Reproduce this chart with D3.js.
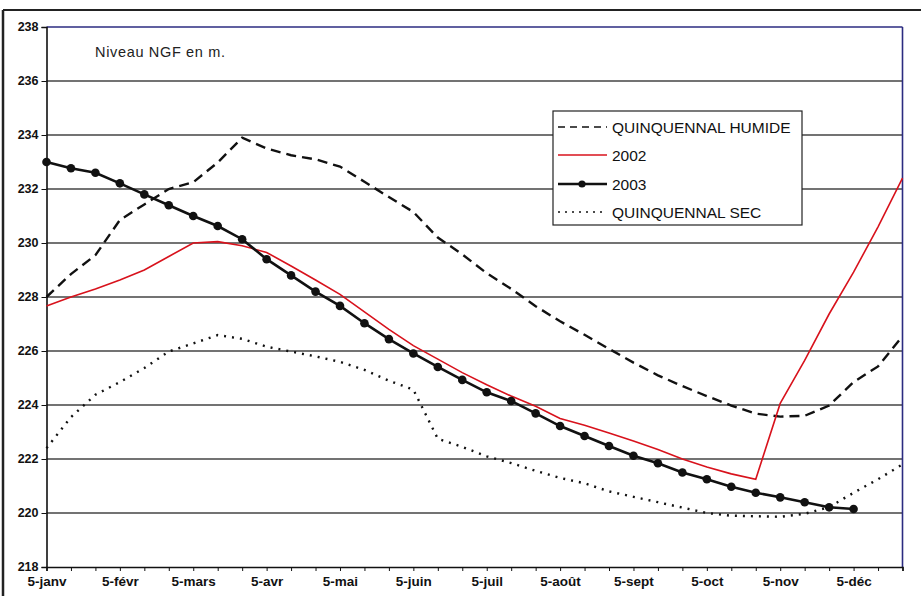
<!DOCTYPE html>
<html>
<head>
<meta charset="utf-8">
<script src="https://cdn.jsdelivr.net/npm/d3@7/dist/d3.min.js"></script>
<style>
  html, body { margin: 0; padding: 0; background: #fff; }
  svg { display: block; font-family: "Liberation Sans", Arial, sans-serif; }
</style>
</head>
<body>
<svg id="chart" width="921" height="596"></svg>
<script>
// ---- data ----
const months = ["5-janv","5-févr","5-mars","5-avr","5-mai","5-juin","5-juil","5-août","5-sept","5-oct","5-nov","5-déc"];
const dekadDays = [5, 15, 25];
const categories = months.flatMap(m => dekadDays.map(d => d + m.slice(1)));
const yTicks = [218, 220, 222, 224, 226, 228, 230, 232, 234, 236, 238];

const humide = [228.0, 228.85, 229.55, 230.85, 231.43, 232.0, 232.25, 232.98, 233.9, 233.5, 233.25, 233.1,
  232.83, 232.27, 231.7, 231.15, 230.2, 229.58, 228.88, 228.3, 227.66, 227.1, 226.6, 226.08,
  225.57, 225.1, 224.7, 224.33, 223.98, 223.68, 223.57, 223.6, 223.98, 224.85, 225.43, 226.55];
const y2002 = [227.67, 228.0, 228.3, 228.63, 229.0, 229.5, 230.0, 230.05, 229.9, 229.65, 229.15, 228.63,
  228.1, 227.45, 226.8, 226.2, 225.7, 225.2, 224.75, 224.33, 223.95, 223.5, 223.25, 222.96,
  222.67, 222.35, 222.0, 221.7, 221.45, 221.25, 224.06, 225.65, 227.37, 228.92, 230.6, 232.4];
const y2003 = [233.0, 232.77, 232.6, 232.21, 231.8, 231.4, 231.0, 230.63, 230.14, 229.4, 228.8, 228.2,
  227.67, 227.03, 226.44, 225.91, 225.41, 224.93, 224.47, 224.15, 223.69, 223.22, 222.85, 222.48,
  222.12, 221.84, 221.5, 221.25, 220.97, 220.75, 220.58, 220.4, 220.21, 220.15];
const sec = [222.4, 223.55, 224.38, 224.85, 225.37, 225.98, 226.28, 226.59, 226.45, 226.16, 225.98, 225.8,
  225.6, 225.3, 224.9, 224.57, 222.75, 222.45, 222.1, 221.85, 221.56, 221.3, 221.1, 220.8,
  220.6, 220.4, 220.2, 220.0, 219.9, 219.88, 219.86, 219.97, 220.22, 220.75, 221.25, 221.8];
const legendLabels = ["QUINQUENNAL HUMIDE", "2002", "2003", "QUINQUENNAL SEC"];
const unitLabel = "Niveau NGF en m.";

// ---- layout ----
const L = 46.5, R = 902.5, T = 27, B = 567;
const svg = d3.select("#chart");

const x = d3.scalePoint().domain(categories).range([L, R]).padding(0);
const y = d3.scaleLinear().domain([218, 238]).range([B, T]);

// chart area border (top & left)
svg.append("line").attr("x1", 3).attr("x2", 921).attr("y1", 10).attr("y2", 10)
  .attr("stroke", "#222").attr("stroke-width", 2);
svg.append("line").attr("x1", 3).attr("x2", 3).attr("y1", 10).attr("y2", 596)
  .attr("stroke", "#222").attr("stroke-width", 2.5);

// gridlines
svg.append("g").selectAll("line").data(yTicks.filter(v => v > 218 && v < 238)).join("line")
  .attr("x1", L).attr("x2", R)
  .attr("y1", d => y(d)).attr("y2", d => y(d))
  .attr("stroke", "#444").attr("stroke-width", 1.4);

// plot border top/right
svg.append("line").attr("x1", L).attr("x2", R).attr("y1", T).attr("y2", T)
  .attr("stroke", "#2b2b80").attr("stroke-width", 1.6);
svg.append("line").attr("x1", R).attr("x2", R).attr("y1", T).attr("y2", B)
  .attr("stroke", "#2b2b80").attr("stroke-width", 1.6);

// axes
const yAxis = d3.axisLeft(y).tickValues(yTicks).tickSize(5).tickPadding(3).tickFormat(d3.format("d"));
const gy = svg.append("g").attr("transform", `translate(${L},0)`).call(yAxis);
gy.select(".domain").attr("stroke", "#111").attr("stroke-width", 1.6);
gy.selectAll(".tick line").attr("stroke", "#111");
gy.selectAll(".tick text").attr("font-size", 12.5).attr("font-weight", "bold").attr("fill", "#111")
  .attr("font-family", "Liberation Sans, Arial, sans-serif").attr("dy", "0.25em");

const labelSet = new Set(categories.filter((c, i) => i % 3 === 0));
const xAxis = d3.axisBottom(x).tickSize(4).tickPadding(5)
  .tickFormat(d => labelSet.has(d) ? months[categories.indexOf(d) / 3] : "");
const gx = svg.append("g").attr("transform", `translate(0,${B})`).call(xAxis);
gx.select(".domain").attr("stroke", "#111").attr("stroke-width", 1.6);
gx.selectAll(".tick line").attr("stroke", "#111");
gx.selectAll(".tick text").attr("font-size", 13.5).attr("font-weight", "bold").attr("fill", "#111")
  .attr("font-family", "Liberation Sans, Arial, sans-serif").attr("dy", "0.71em");

// lines
const line = d3.line().x((d, i) => x(categories[i])).y(d => y(d));
svg.append("path").datum(sec).attr("d", line).attr("fill", "none")
  .attr("stroke", "#111").attr("stroke-width", 2.4).attr("stroke-dasharray", "2,6");
svg.append("path").datum(humide).attr("d", line).attr("fill", "none")
  .attr("stroke", "#111").attr("stroke-width", 2.4).attr("stroke-dasharray", "10,6");
svg.append("path").datum(y2002).attr("d", line).attr("fill", "none")
  .attr("stroke", "#d8121c").attr("stroke-width", 1.6);
svg.append("path").datum(y2003).attr("d", line).attr("fill", "none")
  .attr("stroke", "#111").attr("stroke-width", 2.6);
svg.append("g").selectAll("circle").data(y2003).join("circle")
  .attr("cx", (d, i) => x(categories[i])).attr("cy", d => y(d)).attr("r", 4.3).attr("fill", "#111");

// unit label
svg.append("text").attr("x", 95).attr("y", 57).attr("font-size", 14.5)
  .attr("fill", "#222").attr("textLength", 130).text(unitLabel);

// legend
const lg = svg.append("g");
lg.append("rect").attr("x", 553).attr("y", 111).attr("width", 249).attr("height", 114)
  .attr("fill", "#fff").attr("stroke", "#222").attr("stroke-width", 1.2);
const styles = [
  {stroke: "#111", w: 1.6, dash: "7,5", dot: false},
  {stroke: "#d8121c", w: 1.6, dash: null, dot: false},
  {stroke: "#111", w: 2.4, dash: null, dot: true},
  {stroke: "#111", w: 1.6, dash: "2,5", dot: false}
];
const rowY = [127, 155, 184, 212];
legendLabels.forEach((lab, i) => {
  const s = styles[i];
  lg.append("line").attr("x1", 558).attr("x2", 607).attr("y1", rowY[i]).attr("y2", rowY[i])
    .attr("stroke", s.stroke).attr("stroke-width", s.w).attr("stroke-dasharray", s.dash);
  if (s.dot) lg.append("circle").attr("cx", 582).attr("cy", rowY[i]).attr("r", 3.6).attr("fill", "#111");
  lg.append("text").attr("x", 612).attr("y", rowY[i] + 5.5).attr("font-size", 15.5).attr("fill", "#111")
    .text(lab);
});
</script>
</body>
</html>
